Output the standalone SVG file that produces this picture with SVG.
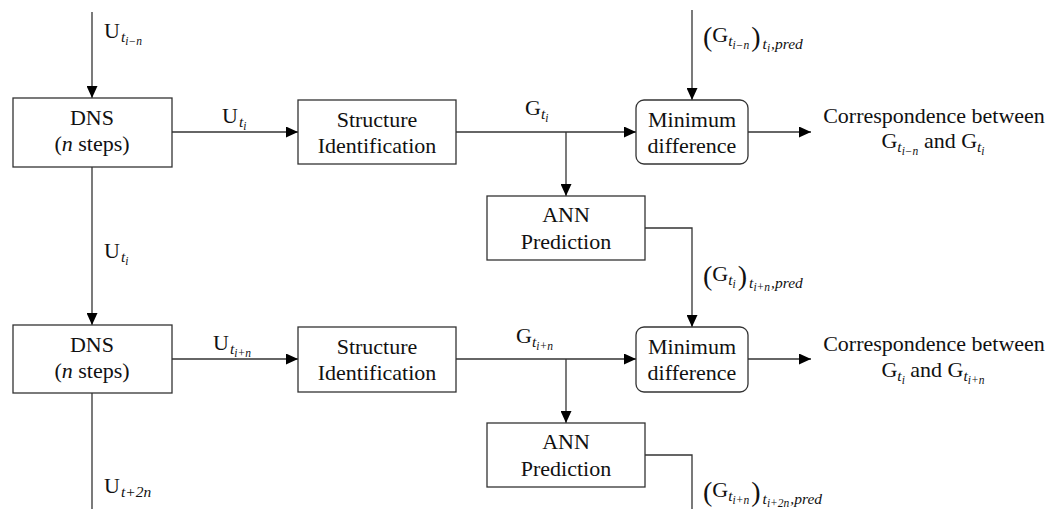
<svg xmlns="http://www.w3.org/2000/svg" width="1062" height="509" viewBox="0 0 1062 509">
<style>
text{font-family:"Liberation Serif","Times New Roman",serif;font-size:22px;fill:#111}
.s1{font-size:15.5px;font-style:italic}
.s2{font-size:11.5px;font-style:italic}
.p{font-size:28px}
.box{fill:#fff;stroke:#333;stroke-width:1.3}
.ln{fill:none;stroke:#333;stroke-width:1.3}
.ar{marker-end:url(#ah)}
</style>
<defs>
<marker id="ah" markerUnits="userSpaceOnUse" markerWidth="12" markerHeight="11" refX="12" refY="5.5" orient="auto">
<path d="M0,0 L12,5.5 L0,11 z" fill="#000"/>
</marker>
</defs>
<rect width="1062" height="509" fill="#fff"/>
<g id="connectors">
<path class="ln ar" d="M92,12 V98"/>
<path class="ln ar" d="M172,132 H298"/>
<path class="ln ar" d="M456,132 H636"/>
<path class="ln ar" d="M566,132 V196"/>
<path class="ln ar" d="M692,10 V100"/>
<path class="ln ar" d="M748,132 H811"/>
<path class="ln ar" d="M92,167 V325"/>
<path class="ln ar" d="M645,228 H692 V327"/>
<path class="ln ar" d="M172,359 H298"/>
<path class="ln ar" d="M456,359 H636"/>
<path class="ln ar" d="M566,359 V423"/>
<path class="ln ar" d="M748,359 H811"/>
<path class="ln" d="M92,393 V509"/>
<path class="ln" d="M645,455 H692 V509"/>
</g>
<g id="labels">
<text x="104" y="38">U<tspan class="s1" dy="4" dx="1">t</tspan><tspan class="s2" dy="3">i−n</tspan></text>
<text x="222" y="123">U<tspan class="s1" dy="4" dx="1">t</tspan><tspan class="s2" dy="3">i</tspan></text>
<text x="525" y="115">G<tspan class="s1" dy="4">t</tspan><tspan class="s2" dy="3">i</tspan></text>
<text x="703" y="42"><tspan class="p" dy="4">(</tspan><tspan dy="-4">G</tspan><tspan class="s1" dy="4">t</tspan><tspan class="s2" dy="3">i−n</tspan><tspan class="p" dy="-3" dx="2">)</tspan><tspan class="s1" dy="3" dx="2">t</tspan><tspan class="s2" dy="3">i</tspan><tspan class="s1" dy="-3" dx="1">,pred</tspan></text>
<text x="104" y="258">U<tspan class="s1" dy="4" dx="1">t</tspan><tspan class="s2" dy="3">i</tspan></text>
<text x="703" y="281"><tspan class="p" dy="4">(</tspan><tspan dy="-4">G</tspan><tspan class="s1" dy="4">t</tspan><tspan class="s2" dy="3">i</tspan><tspan class="p" dy="-3" dx="2">)</tspan><tspan class="s1" dy="3" dx="2">t</tspan><tspan class="s2" dy="3">i+n</tspan><tspan class="s1" dy="-3" dx="1">,pred</tspan></text>
<text x="213" y="350">U<tspan class="s1" dy="4" dx="1">t</tspan><tspan class="s2" dy="3">i+n</tspan></text>
<text x="516" y="343">G<tspan class="s1" dy="4">t</tspan><tspan class="s2" dy="3">i+n</tspan></text>
<text x="104" y="493">U<tspan class="s1" dy="4" dx="1">t+2n</tspan></text>
<text x="703" y="497"><tspan class="p" dy="4">(</tspan><tspan dy="-4">G</tspan><tspan class="s1" dy="4">t</tspan><tspan class="s2" dy="3">i+n</tspan><tspan class="p" dy="-3" dx="2">)</tspan><tspan class="s1" dy="3" dx="2">t</tspan><tspan class="s2" dy="3">i+2n</tspan><tspan class="s1" dy="-3" dx="1">,pred</tspan></text>
</g>
<g id="dns1">
<rect class="box" x="13" y="98" width="159" height="69"/>
<text x="92" y="125" text-anchor="middle">DNS</text>
<text x="92" y="151" text-anchor="middle">(<tspan font-style="italic">n</tspan> steps)</text>
</g>
<g id="struct1">
<rect class="box" x="298" y="100" width="158" height="64"/>
<text x="377" y="127" text-anchor="middle">Structure</text>
<text x="377" y="153" text-anchor="middle">Identification</text>
</g>
<g id="min1">
<rect class="box" x="636" y="100" width="112" height="64" rx="8"/>
<text x="692" y="127" text-anchor="middle">Minimum</text>
<text x="692" y="153" text-anchor="middle">difference</text>
</g>
<g id="out1">
<text x="934" y="123" text-anchor="middle">Correspondence between</text>
<text x="933" y="148" text-anchor="middle">G<tspan class="s1" dy="4">t</tspan><tspan class="s2" dy="3">i−n</tspan><tspan dy="-7"> and G</tspan><tspan class="s1" dy="4">t</tspan><tspan class="s2" dy="3">i</tspan></text>
</g>
<g id="ann1">
<rect class="box" x="487" y="196" width="158" height="64"/>
<text x="566" y="222" text-anchor="middle">ANN</text>
<text x="566" y="249" text-anchor="middle">Prediction</text>
</g>
<g id="dns2">
<rect class="box" x="13" y="325" width="159" height="68"/>
<text x="92" y="352" text-anchor="middle">DNS</text>
<text x="92" y="378" text-anchor="middle">(<tspan font-style="italic">n</tspan> steps)</text>
</g>
<g id="struct2">
<rect class="box" x="298" y="327" width="158" height="65"/>
<text x="377" y="354" text-anchor="middle">Structure</text>
<text x="377" y="380" text-anchor="middle">Identification</text>
</g>
<g id="min2">
<rect class="box" x="636" y="327" width="112" height="65" rx="8"/>
<text x="692" y="354" text-anchor="middle">Minimum</text>
<text x="692" y="380" text-anchor="middle">difference</text>
</g>
<g id="out2">
<text x="934" y="351" text-anchor="middle">Correspondence between</text>
<text x="933" y="377" text-anchor="middle">G<tspan class="s1" dy="4">t</tspan><tspan class="s2" dy="3">i</tspan><tspan dy="-7"> and G</tspan><tspan class="s1" dy="4">t</tspan><tspan class="s2" dy="3">i+n</tspan></text>
</g>
<g id="ann2">
<rect class="box" x="487" y="423" width="158" height="64"/>
<text x="566" y="449" text-anchor="middle">ANN</text>
<text x="566" y="476" text-anchor="middle">Prediction</text>
</g>
</svg>
